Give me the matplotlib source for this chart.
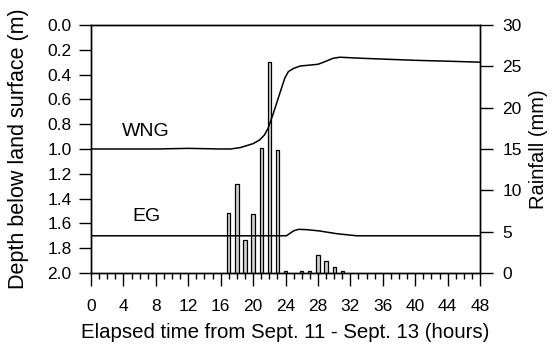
import numpy as np
import matplotlib
matplotlib.use("Agg")
import matplotlib.pyplot as plt

plt.rcParams['font.family'] = ['Liberation Sans', 'DejaVu Sans']

# profondeur de la nappe (m) - puits WNG
wng_t = [0, 4, 8, 12, 16, 17.2, 18.4, 20.0, 20.8, 21.4, 21.85, 22.5, 23.3, 23.9, 24.35,
         25.0, 25.8, 28.0, 28.7, 29.9, 30.7, 33.2, 36, 40, 44, 48]
wng_d = [1.0, 1.0, 1.0, 0.995, 1.0, 1.0, 0.989, 0.957, 0.927, 0.887, 0.833, 0.712, 0.55, 0.43, 0.376,
         0.35, 0.331, 0.317, 0.30, 0.268, 0.26, 0.268, 0.275, 0.285, 0.292, 0.30]

# puits EG
eg_t = [0, 8, 16, 24.1, 25.0, 25.6, 26.5, 28.2, 30.3, 32.8, 36, 40, 48]
eg_d = [1.70, 1.70, 1.70, 1.70, 1.66, 1.648, 1.65, 1.661, 1.683, 1.70, 1.70, 1.70, 1.70]

# pluie horaire (mm)
rain_t = [17, 18, 19, 20, 21, 22, 23, 24, 26, 27, 28, 29, 30, 31]
rain_mm = [7.3, 10.8, 4.0, 7.1, 15.1, 25.5, 14.9, 0.2, 0.2, 0.2, 2.2, 1.5, 0.7, 0.2]

fig = plt.figure(figsize=(5.54, 3.46), dpi=100)
ax = fig.add_axes([0.1643, 0.211, 0.7022, 0.7168])
ax2 = ax.twinx()

ax2.bar(rain_t, rain_mm, width=0.4, color='#d0d0d0', edgecolor='black', linewidth=0.9)
ax2.set_ylim(0, 30)
ax2.set_yticks(np.arange(0, 31, 5))
ax2.set_ylabel("Rainfall (mm)", fontsize=14.5, labelpad=5)

ax.plot(wng_t, wng_d, color='black', lw=1.1)
ax.plot(eg_t, eg_d, color='black', lw=1.1)
ax.text(6.8, 0.86, "WNG", fontsize=14, ha='center', va='center')
ax.text(6.9, 1.546, "EG", fontsize=14, ha='center', va='center')

ax.set_xlim(0, 48)
ax.set_ylim(2.0, 0.0)
ax.set_yticks(np.arange(0, 2.01, 0.2))
ax.set_yticklabels(["%.1f" % v for v in np.arange(0, 2.01, 0.2)])
ax.set_xticks(np.arange(0, 49, 4))
ax.set_xticks(np.arange(0, 49, 1), minor=True)
ax.set_ylabel("Depth below land surface (m)", fontsize=15.5, labelpad=13)
ax.set_xlabel("Elapsed time from Sept. 11 - Sept. 13 (hours)", fontsize=14.7, labelpad=6)

# lignes au-dessus des barres
ax.set_zorder(ax2.get_zorder() + 1)
ax.patch.set_visible(False)

ax.tick_params(axis='both', which='major', labelsize=12.5, length=9, width=1, pad=5)
ax.tick_params(axis='x', which='minor', length=4, width=1)
ax.tick_params(axis='x', which='major', pad=10)
ax2.tick_params(axis='y', labelsize=12.5, length=9, width=1, pad=7)

for a in (ax, ax2):
    for s in a.spines.values():
        s.set_linewidth(1)

fig.savefig("out.png", dpi=100)
